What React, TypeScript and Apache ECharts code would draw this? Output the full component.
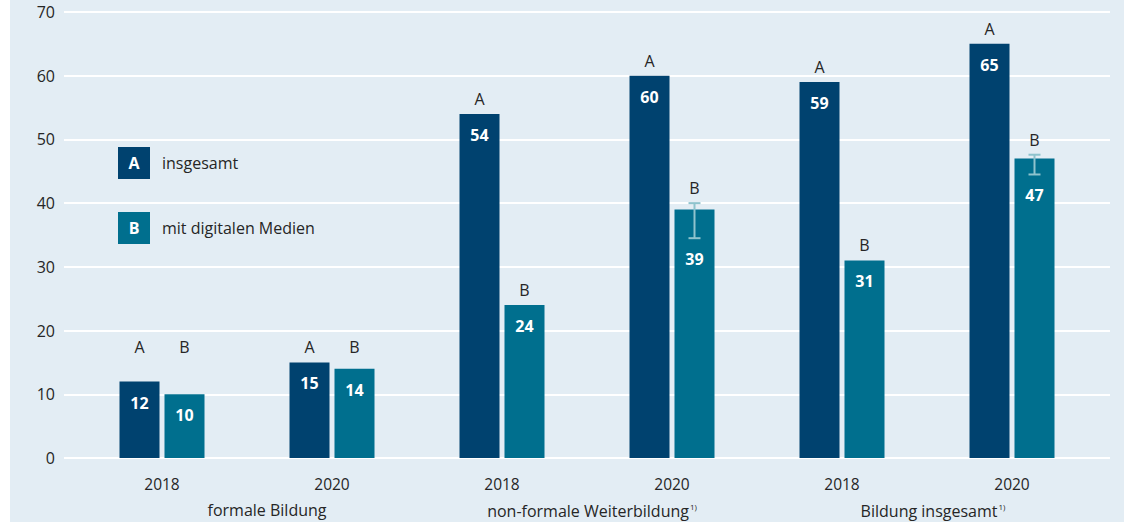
import React, { useEffect, useRef } from "react";
import * as echarts from "echarts";

const categories = ["2018", "2020", "2018", "2020", "2018", "2020"];
const groups = ["formale Bildung", "non-formale Weiterbildung", "Bildung insgesamt"];
const groupNotes = ["", "1)", "1)"];
const seriesNames = ["insgesamt", "mit digitalen Medien"];
const seriesLetters = ["A", "B"];
const valuesA = [12, 15, 54, 60, 59, 65];
const valuesB = [10, 14, 24, 39, 31, 47];
const errLowB: (number | null)[] = [null, null, null, 34.5, null, 44.5];
const errHighB: (number | null)[] = [null, null, null, 40, null, 47.6];
const yMin = 0;
const yMax = 70;
const yInterval = 10;

const COLOR_A = "#00426f";
const COLOR_B = "#006f8e";
const BG = "#e3edf4";
const TEXT = "#262626";
const ERR = "#8ec3cd";
const FONT = "'Open Sans', 'Noto Sans', sans-serif";
const BAR_W = 40;
const BAR_GAP = 5;
const LETTER_FLOOR = 15;
const GROUP_PAD = [40, 10, 12];

export default function App() {
  const ref = useRef<HTMLDivElement>(null);
  useEffect(() => {
    if (!ref.current) return;
    const chart = echarts.init(ref.current, null, { renderer: "svg" });

    const annData: any[] = [];
    valuesA.forEach((v, i) => annData.push([i, v, 0, NaN, NaN]));
    valuesB.forEach((v, i) =>
      annData.push([i, v, 1, errLowB[i] ?? NaN, errHighB[i] ?? NaN])
    );

    const option: any = {
      animation: false,
      backgroundColor: BG,
      textStyle: { fontFamily: FONT },
      grid: [
        { left: 64, right: 14, top: 12, bottom: 64 },
        { left: 77, right: 27, top: 12, bottom: 64 },
      ],
      xAxis: [
        { type: "value", gridIndex: 0, min: 0, max: 1, show: false },
        {
          type: "category",
          gridIndex: 1,
          data: categories,
          axisLine: { show: false },
          axisTick: { show: false },
          axisLabel: { color: TEXT, fontSize: 15.5, margin: 18, fontFamily: FONT },
        },
        {
          type: "category",
          gridIndex: 1,
          position: "bottom",
          data: groups.map((g, i) => ({
            value: g,
            textStyle: { padding: [0, 0, 0, GROUP_PAD[i]] },
          })),
          axisLine: { show: false },
          axisTick: { show: false },
          axisLabel: {
            margin: 44,
            formatter: (val: string, idx: number) =>
              groupNotes[idx] ? `{n|${val}}{s|${groupNotes[idx]}}` : `{n|${val}}`,
            rich: {
              n: { color: TEXT, fontSize: 16, fontFamily: FONT },
              s: { color: TEXT, fontSize: 8, fontFamily: FONT, verticalAlign: "top", padding: [0, 0, 9, 1] },
            },
          },
        },
      ],
      yAxis: [
        {
          type: "value",
          gridIndex: 0,
          min: yMin,
          max: yMax,
          interval: yInterval,
          axisLine: { show: false },
          axisTick: { show: false },
          axisLabel: { color: TEXT, fontSize: 16, margin: 9, fontFamily: FONT },
          splitLine: { lineStyle: { color: "#ffffff", width: 2 } },
        },
        {
          type: "value",
          gridIndex: 1,
          min: yMin,
          max: yMax,
          interval: yInterval,
          show: false,
          splitLine: { show: false },
        },
      ],
      series: [
        {
          name: seriesNames[0],
          type: "bar",
          xAxisIndex: 1,
          yAxisIndex: 1,
          data: valuesA,
          barWidth: BAR_W,
          barGap: `${(BAR_GAP / BAR_W) * 100}%`,
          itemStyle: { color: COLOR_A },
        },
        {
          name: seriesNames[1],
          type: "bar",
          xAxisIndex: 1,
          yAxisIndex: 1,
          data: valuesB,
          barWidth: BAR_W,
          itemStyle: { color: COLOR_B },
        },
        {
          type: "custom",
          xAxisIndex: 1,
          yAxisIndex: 1,
          data: annData,
          encode: { x: 0, y: 1 },
          clip: false,
          z: 10,
          renderItem: (params: any, api: any) => {
            const cat = api.value(0);
            const v = api.value(1);
            const s = api.value(2);
            const lo = api.value(3);
            const hi = api.value(4);
            const off = (BAR_W + BAR_GAP) / 2;
            const base = api.coord([cat, v]);
            const x = base[0] + (s === 0 ? -off : off);
            const hasErr = !isNaN(lo) && !isNaN(hi);
            const anchor = Math.max(v, hasErr ? hi : v, LETTER_FLOOR);
            const letterY = api.coord([cat, anchor])[1] - 15;
            const valTop = hasErr ? api.coord([cat, lo])[1] : base[1];
            const children: any[] = [
              {
                type: "text",
                style: {
                  text: seriesLetters[s],
                  x,
                  y: letterY,
                  align: "center",
                  verticalAlign: "middle",
                  fill: TEXT,
                  fontSize: 16,
                  fontFamily: FONT,
                },
              },
              {
                type: "text",
                style: {
                  text: String(v),
                  x,
                  y: valTop + 21,
                  align: "center",
                  verticalAlign: "middle",
                  fill: "#ffffff",
                  fontSize: 16,
                  fontWeight: "bold",
                  fontFamily: FONT,
                },
              },
            ];
            if (hasErr) {
              const yl = api.coord([cat, lo])[1];
              const yh = api.coord([cat, hi])[1];
              const es = { stroke: ERR, lineWidth: 2 };
              children.push(
                { type: "line", shape: { x1: x, y1: yl, x2: x, y2: yh }, style: es },
                { type: "line", shape: { x1: x - 6, y1: yl, x2: x + 6, y2: yl }, style: es },
                { type: "line", shape: { x1: x - 6, y1: yh, x2: x + 6, y2: yh }, style: es }
              );
            }
            return { type: "group", children };
          },
        },
      ],
      graphic: [
        { type: "rect", left: 0, top: 0, shape: { width: 10, height: 522 }, style: { fill: "#ffffff" } },
        { type: "rect", left: 118, top: 147, shape: { width: 32, height: 32 }, style: { fill: COLOR_A } },
        {
          type: "text",
          x: 134,
          y: 163,
          style: { text: seriesLetters[0], fill: "#fff", fontSize: 16, fontWeight: "bold", fontFamily: FONT, align: "center", verticalAlign: "middle" },
        },
        {
          type: "text",
          x: 162,
          y: 163,
          style: { text: seriesNames[0], fill: TEXT, fontSize: 16, fontFamily: FONT, verticalAlign: "middle" },
        },
        { type: "rect", left: 118, top: 212, shape: { width: 32, height: 32 }, style: { fill: COLOR_B } },
        {
          type: "text",
          x: 134,
          y: 228,
          style: { text: seriesLetters[1], fill: "#fff", fontSize: 16, fontWeight: "bold", fontFamily: FONT, align: "center", verticalAlign: "middle" },
        },
        {
          type: "text",
          x: 162,
          y: 228,
          style: { text: seriesNames[1], fill: TEXT, fontSize: 16, fontFamily: FONT, verticalAlign: "middle" },
        },
      ],
    };
    chart.setOption(option);
    return () => chart.dispose();
  }, []);
  return <div ref={ref} style={{ position: "fixed", left: 0, top: 0, width: 1124, height: 522 }} />;
}
